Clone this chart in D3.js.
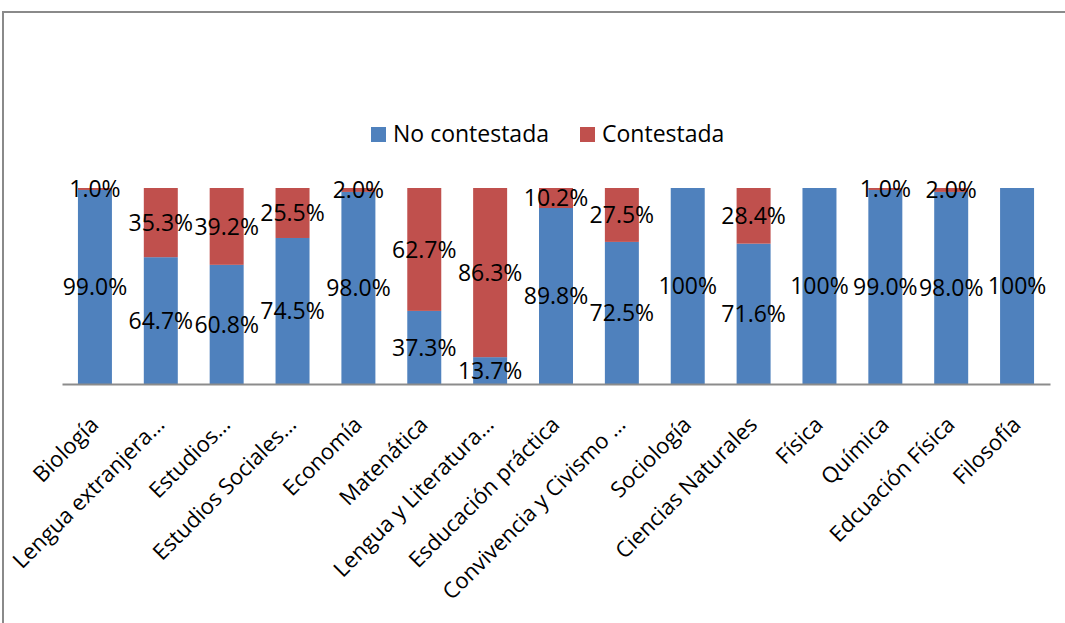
<!DOCTYPE html>
<html>
<head>
<meta charset="utf-8">
<script src="https://cdn.jsdelivr.net/npm/d3@7"></script>
<style>
  body { margin: 0; background: #fff; overflow: hidden; }
  svg { display: block; }
  text { font-family: "Open Sans", sans-serif; fill: #000; }
</style>
</head>
<body>
<div id="chart"></div>
<script>
var categories = [
  "Biología", "Lengua extranjera…", "Estudios…", "Estudios Sociales…", "Economía",
  "Matenática", "Lengua y Literatura…", "Esducación práctica", "Convivencia y Civismo …",
  "Sociología", "Ciencias Naturales", "Física", "Química", "Edcuación Física", "Filosofía"
];
var noContestada = [99.0, 64.7, 60.8, 74.5, 98.0, 37.3, 13.7, 89.8, 72.5, 100, 71.6, 100, 99.0, 98.0, 100];
var contestada = [1.0, 35.3, 39.2, 25.5, 2.0, 62.7, 86.3, 10.2, 27.5, 0, 28.4, 0, 1.0, 2.0, 0];
var seriesNames = ["No contestada", "Contestada"];
var colors = ["#4f81bd", "#c0504d"];

var width = 1065, height = 623;
var margin = { top: 188, right: 15, bottom: 239, left: 62 };
var chartWidth = width - margin.left - margin.right;
var chartHeight = height - margin.top - margin.bottom;

var svg = d3.select("#chart").append("svg")
  .attr("width", width)
  .attr("height", height);

// outer frame: only its top and left edges fall inside the picture
svg.append("path")
  .attr("d", `M3,${height + 5} V12 H${width + 5}`)
  .attr("fill", "none")
  .attr("stroke", "#8a8a8a")
  .attr("stroke-width", 2);

var g = svg.append("g")
  .attr("transform", `translate(${margin.left}, ${margin.top})`);

var rows = categories.map((c, i) => ({ cat: c, nc: noContestada[i], c: contestada[i] }));

var xScale = d3.scaleBand()
  .domain(categories)
  .range([0, chartWidth])
  .padding(0);

var yScale = d3.scaleLinear()
  .domain([0, 100])
  .range([chartHeight, 0]);

var barW = xScale.bandwidth() * 0.516;

var stacked = d3.stack().keys(["nc", "c"])(rows);

var fmt = v => v === 100 ? "100%" : v.toFixed(1) + "%";

var layers = g.selectAll(".layer")
  .data(stacked)
  .enter()
  .append("g")
  .attr("class", "layer")
  .attr("fill", (d, i) => colors[i]);

layers.selectAll("rect")
  .data(d => d)
  .enter()
  .append("rect")
  .attr("x", d => xScale(d.data.cat) + (xScale.bandwidth() - barW) / 2)
  .attr("y", d => yScale(d[1]))
  .attr("width", barW)
  .attr("height", d => yScale(d[0]) - yScale(d[1]));

// x axis
var xAxis = d3.axisBottom(xScale).tickSize(0).tickSizeOuter(0);
var ax = g.append("g")
  .attr("class", "x axis")
  .attr("transform", `translate(0, ${chartHeight})`)
  .call(xAxis);
ax.select(".domain").attr("stroke", "#8c8c8c").attr("stroke-width", 2);
ax.selectAll("text")
  .attr("x", 0).attr("y", 0).attr("dy", 0)
  .attr("transform", "translate(5, 42) rotate(-45)")
  .style("text-anchor", "end")
  .style("font-size", "22px")
  .style("font-family", "'Open Sans', sans-serif")
  .attr("fill", "#000");

// data labels, centred in each segment
layers.each(function (layer, i) {
  var key = i === 0 ? "nc" : "c";
  d3.select(this).selectAll(".lbl")
    .data(layer.filter(p => p.data[key] > 0))
    .enter()
    .append("text")
    .attr("class", "lbl")
    .attr("x", p => xScale(p.data.cat) + xScale.bandwidth() / 2)
    .attr("y", p => (yScale(p[0]) + yScale(p[1])) / 2)
    .attr("dy", "0.36em")
    .attr("text-anchor", "middle")
    .style("font-size", "23px")
    .text(p => fmt(p.data[key]));
});

// legend
var legendX = [371, 580];
var legend = svg.selectAll(".legend")
  .data(seriesNames)
  .enter()
  .append("g")
  .attr("class", "legend")
  .attr("transform", (d, i) => `translate(${legendX[i]}, 127)`);
legend.append("rect")
  .attr("width", 15).attr("height", 15)
  .attr("fill", (d, i) => colors[i]);
legend.append("text")
  .attr("x", 22).attr("y", 15)
  .style("font-size", "23px")
  .text(d => d);
</script>
</body>
</html>
